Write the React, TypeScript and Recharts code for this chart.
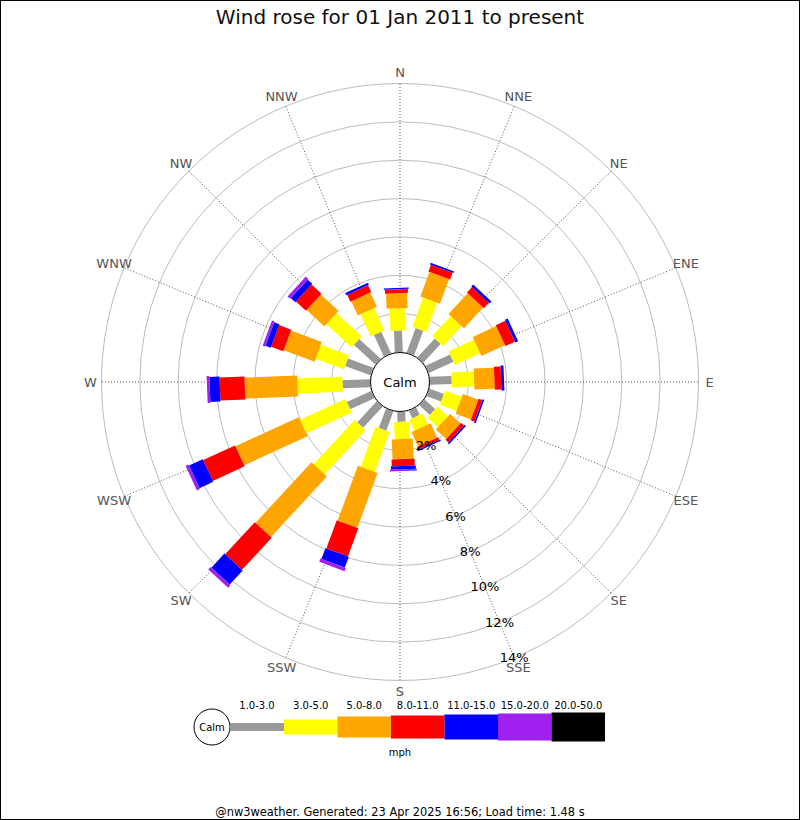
import {
  Legend,
  PolarAngleAxis,
  PolarGrid,
  PolarRadiusAxis,
  RadialBar,
  RadialBarChart,
  Customized,
} from "recharts";

// Compass directions, clockwise from north
const DIRECTIONS = [
  "N", "NNE", "NE", "ENE", "E", "ESE", "SE", "SSE",
  "S", "SSW", "SW", "WSW", "W", "WNW", "NW", "NNW",
];

// Speed bins (mph)
const SPEED_BINS = ["1.0-3.0", "3.0-5.0", "5.0-8.0", "8.0-11.0", "11.0-15.0", "15.0-20.0", "20.0-50.0"];
const BIN_COLORS = ["#999999", "#ffff00", "#ffa500", "#ff0000", "#0000ff", "#a020f0", "#000000"];
const BIN_WIDTHS = [8, 15, 21, 23, 25, 27, 29];

// Percent of time per direction, one array per speed bin
const PCT_1_3 = [1.11, 1.36, 1.34, 1.41, 1.13, 0.8, 0.75, 0.43, 0.51, 1.07, 1.5, 1.39, 1.43, 1.41, 1.52, 1.23];
const PCT_3_5 = [1.17, 1.62, 1.41, 1.45, 1.17, 0.93, 0.74, 0.63, 0.9, 2.22, 3.14, 2.61, 2.35, 1.57, 1.78, 1.28];
const PCT_5_8 = [0.79, 1.37, 1.48, 1.35, 1.06, 0.86, 0.73, 0.82, 1.04, 3.05, 4.3, 3.63, 2.75, 1.72, 1.26, 0.81];
const PCT_8_11 = [0.2, 0.38, 0.39, 0.55, 0.35, 0.2, 0.21, 0.16, 0.37, 1.57, 2.28, 1.83, 1.3, 0.68, 0.71, 0.4];
const PCT_11_15 = [0.07, 0.09, 0.14, 0.16, 0.15, 0.09, 0.09, 0.07, 0.17, 0.6, 1.0, 0.79, 0.53, 0.29, 0.32, 0.12];
const PCT_15_20 = [0, 0, 0, 0, 0, 0, 0, 0, 0.09, 0.18, 0.18, 0.17, 0.14, 0.14, 0.18, 0];
const PCT_20_50 = [0, 0, 0, 0, 0, 0, 0, 0, 0, 0, 0, 0, 0, 0, 0, 0];

const BIN_VALUES = [PCT_1_3, PCT_3_5, PCT_5_8, PCT_8_11, PCT_11_15, PCT_15_20, PCT_20_50];
const RADIUS_TICKS = [2, 4, 6, 8, 10, 12, 14];

const FONT = "'DejaVu Sans', sans-serif";
const CX = 400;
const CY = 382;
const CALM_RADIUS = 30;

const rows = DIRECTIONS.map((dir, i) => {
  const row: Record<string, string | number> = { dir };
  BIN_VALUES.forEach((vals, b) => {
    row[`b${b}`] = vals[i];
  });
  return row;
});

// Straight bar along the direction's spoke (the band start angle, where the tick sits)
function SpokeBar(props: any) {
  const { cx, cy, innerRadius, outerRadius, startAngle, fill, barWidth } = props;
  if (!(outerRadius - innerRadius > 0.01)) return null;
  const a = (startAngle * Math.PI) / 180;
  const ux = Math.cos(a);
  const uy = -Math.sin(a);
  const h = barWidth / 2;
  const px = -uy * h;
  const py = ux * h;
  const pts = [
    [cx + ux * innerRadius + px, cy + uy * innerRadius + py],
    [cx + ux * outerRadius + px, cy + uy * outerRadius + py],
    [cx + ux * outerRadius - px, cy + uy * outerRadius - py],
    [cx + ux * innerRadius - px, cy + uy * innerRadius - py],
  ]
    .map((p) => p.join(","))
    .join(" ");
  return <polygon points={pts} fill={fill} />;
}

function AngleTick(props: any) {
  const { x, y, payload } = props;
  return (
    <text x={x} y={y} textAnchor="middle" dominantBaseline="central" fill="#555" fontSize={13} fontFamily={FONT}>
      {payload.value}
    </text>
  );
}

function RadiusTick(props: any) {
  const { x, y, payload } = props;
  return (
    <text x={x} y={y} textAnchor="middle" dominantBaseline="central" fill="#000" fontSize={13} fontFamily={FONT}>
      {payload.value}%
    </text>
  );
}

function CalmCircle() {
  return (
    <g>
      <circle cx={CX} cy={CY} r={CALM_RADIUS - 0.5} fill="#fff" stroke="#000" />
      <text x={CX} y={CY} textAnchor="middle" dominantBaseline="central" fontSize={13} fontFamily={FONT} fill="#000">
        Calm
      </text>
    </g>
  );
}

function SpeedLegend() {
  const startX = 230;
  const grayEnd = 284;
  const step = 53.5;
  const midY = 37;
  return (
    <svg width={800} height={70} style={{ display: "block" }}>
      <circle cx={212} cy={midY} r={18} fill="#fff" stroke="#000" />
      <text x={212} y={midY} textAnchor="middle" dominantBaseline="central" fontSize={10} fontFamily={FONT}>
        Calm
      </text>
      {SPEED_BINS.map((label, i) => {
        const x0 = i === 0 ? startX : grayEnd + (i - 1) * step;
        const x1 = i === 0 ? grayEnd : grayEnd + i * step;
        const h = BIN_WIDTHS[i];
        return (
          <g key={label}>
            <rect x={x0} y={midY - h / 2} width={x1 - x0} height={h} fill={BIN_COLORS[i]} />
            <text x={(x0 + x1) / 2} y={15.5} textAnchor="middle" dominantBaseline="central" fontSize={10} fontFamily={FONT}>
              {label}
            </text>
          </g>
        );
      })}
      <text x={400} y={62} textAnchor="middle" dominantBaseline="central" fontSize={10} fontFamily={FONT}>
        mph
      </text>
    </svg>
  );
}

export default function App() {
  return (
    <div style={{ position: "absolute", left: 0, top: 0, width: 800, height: 820, background: "#fff", fontFamily: FONT }}>
      <div
        style={{
          position: "absolute",
          top: 4,
          left: 0,
          width: 800,
          textAlign: "center",
          fontSize: 20,
          lineHeight: "26px",
          color: "#111",
        }}
      >
        Wind rose for 01 Jan 2011 to present
      </div>
      <div style={{ position: "absolute", left: 0, top: 0 }}>
        <RadialBarChart
          width={800}
          height={820}
          data={rows}
          cx={CX}
          cy={CY}
          innerRadius={CALM_RADIUS}
          outerRadius={298.5}
          startAngle={90}
          endAngle={-270}
          layout="centric"
          margin={{ top: 0, right: 0, bottom: 0, left: 0 }}
        >
          <PolarGrid gridType="circle" radialLines={false} stroke="#bbbbbb" />
          <PolarGrid gridType="circle" polarRadius={[CALM_RADIUS]} stroke="#555" strokeDasharray="1 2" />
          <PolarAngleAxis
            dataKey="dir"
            type="category"
            axisLine={false}
            tickLine={false}
            tickSize={11}
            tick={AngleTick}
          />
          {SPEED_BINS.map((bin, i) => (
            <RadialBar
              key={bin}
              dataKey={`b${i}`}
              stackId="wind"
              fill={BIN_COLORS[i]}
              isAnimationActive={false}
              shape={(p: any) => <SpokeBar {...p} barWidth={BIN_WIDTHS[i]} />}
            />
          ))}
          <PolarRadiusAxis
            type="number"
            domain={[0, 14]}
            ticks={RADIUS_TICKS}
            angle={-67.5}
            axisLine={false}
            tickLine={false}
            tick={RadiusTick}
          />
          <Customized component={CalmCircle} />
          <Legend
            verticalAlign="bottom"
            content={() => <SpeedLegend />}
            wrapperStyle={{ position: "absolute", top: 690, left: 0, width: 800, height: 70 }}
          />
        </RadialBarChart>
      </div>
      <div
        style={{
          position: "absolute",
          top: 804,
          left: 0,
          width: 800,
          textAlign: "center",
          fontSize: 11.4,
          lineHeight: "16px",
          color: "#000",
        }}
      >
        @nw3weather. Generated: 23 Apr 2025 16:56; Load time: 1.48 s
      </div>
      <div
        style={{
          position: "absolute",
          left: 0,
          top: 0,
          width: 800,
          height: 820,
          boxSizing: "border-box",
          border: "1px solid #000",
          pointerEvents: "none",
        }}
      />
    </div>
  );
}
